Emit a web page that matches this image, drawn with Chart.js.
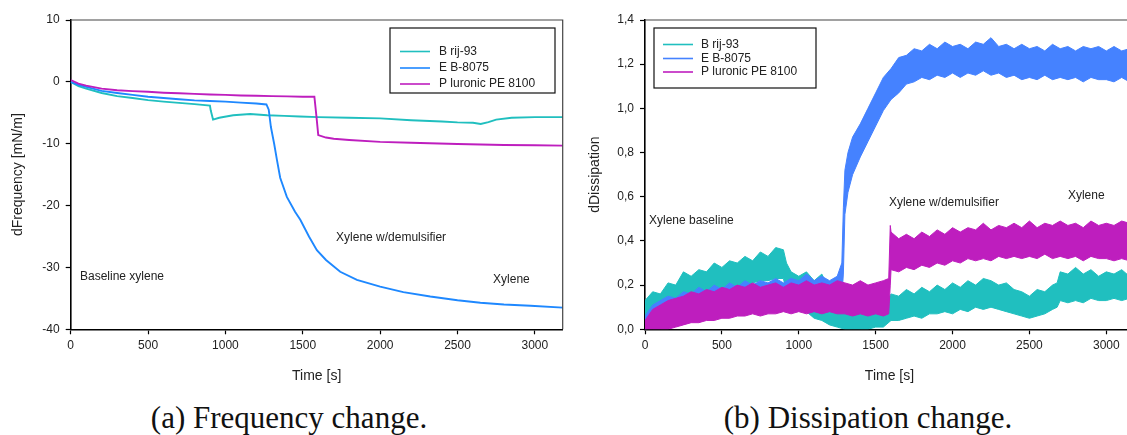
<!DOCTYPE html>
<html><head><meta charset="utf-8">
<script src="https://cdn.jsdelivr.net/npm/chart.js@4.4.1/dist/chart.umd.min.js"></script>
<style>
html,body{margin:0;padding:0;background:#fff;overflow:hidden;width:1127px;height:435px;position:relative}
#wa{position:absolute;left:0;top:0;width:575px;height:390px}
#wb{position:absolute;left:580px;top:0;width:565px;height:390px}
.cap{position:absolute;top:398px;font-family:"Liberation Serif","Times New Roman",serif;font-size:31px;line-height:40px;white-space:nowrap;color:#111;transform:translateX(-50%)}
</style></head><body>
<div id="wa"><canvas id="ca" width="575" height="390"></canvas></div>
<div id="wb"><canvas id="cb" width="565" height="390"></canvas></div>
<div class="cap" style="left:289px">(a) Frequency change.</div>
<div class="cap" style="left:868px">(b) Dissipation change.</div>
<script>
// ---------- Data ----------
const seriesNames = ["B rij-93", "E B-8075", "P luronic PE 8100"];
const timeTicks = [0, 500, 1000, 1500, 2000, 2500, 3000];
const timeMax = 3180;
const freqTicks = [-40, -30, -20, -10, 0, 10];
const dissTicks = [0, 0.2, 0.4, 0.6, 0.8, 1.0, 1.2, 1.4];

// (a) frequency change
const freqBrijT = [0,50,100,200,300,400,500,600,700,800,900,905,920,960,1050,1160,1270,1380,1480,1600,1800,2000,2200,2400,2500,2600,2650,2700,2750,2850,3000,3180];
const freqBrijV = [0,-0.7,-1.1,-1.8,-2.3,-2.6,-2.95,-3.2,-3.4,-3.6,-3.85,-4.6,-6.1,-5.8,-5.4,-5.2,-5.4,-5.5,-5.6,-5.7,-5.8,-5.9,-6.2,-6.4,-6.55,-6.6,-6.8,-6.5,-6.1,-5.8,-5.7,-5.7];

const freqEbT = [0,50,100,200,300,400,500,600,700,800,900,1000,1100,1200,1265,1280,1294,1315,1333,1354,1397,1450,1484,1540,1591,1650,1742,1850,2000,2150,2324,2500,2648,2800,2972,3180];
const freqEbV = [0,-0.5,-0.8,-1.45,-1.8,-2.1,-2.4,-2.6,-2.8,-3.0,-3.1,-3.2,-3.35,-3.5,-3.65,-4.5,-7.3,-10.0,-12.6,-15.5,-18.6,-21.0,-22.3,-25.0,-27.2,-28.8,-30.7,-32.0,-33.1,-34.0,-34.7,-35.3,-35.7,-36.0,-36.2,-36.5];

const freqPlurT = [0,50,100,200,300,400,500,600,700,800,900,1000,1100,1200,1300,1400,1500,1575,1588,1600,1650,1700,1800,2000,2200,2500,2800,3000,3180];
const freqPlurV = [0.3,-0.3,-0.6,-1.1,-1.35,-1.5,-1.6,-1.75,-1.85,-1.95,-2.05,-2.1,-2.2,-2.25,-2.3,-2.35,-2.4,-2.4,-5.5,-8.6,-9.0,-9.2,-9.4,-9.7,-9.85,-10.05,-10.2,-10.25,-10.3];

// (b) dissipation change: noisy signals read as upper / lower envelopes
const dissBrijT = [0,50,100,150,200,250,300,350,400,450,
 500,550,600,650,700,750,800,850,900,920,
 950,1000,1050,1100,1150,1200,1250,1300,1350,1400,
 1450,1500,1550,1600,1650,1700,1750,1800,1850,1900,
 1950,2000,2050,2100,2150,2200,2250,2300,2350,2400,
 2450,2500,2550,2600,2650,2680,2700,2750,2800,2850,
 2900,2950,3000,3050,3100,3150,3180];
const dissBrijHi = [0.13,0.17,0.16,0.21,0.20,0.26,0.24,0.27,0.26,0.30,
 0.28,0.31,0.30,0.33,0.31,0.35,0.33,0.37,0.36,0.30,
 0.26,0.24,0.26,0.22,0.25,0.18,0.20,0.12,0.10,0.12,
 0.09,0.11,0.10,0.16,0.15,0.18,0.16,0.19,0.17,0.20,
 0.18,0.21,0.19,0.22,0.20,0.23,0.22,0.20,0.21,0.18,
 0.17,0.15,0.18,0.17,0.20,0.21,0.26,0.25,0.28,0.25,
 0.27,0.24,0.26,0.25,0.27,0.24,0.26];
const dissBrijLo = [0.03,0.06,0.08,0.10,0.11,0.13,0.14,0.15,0.16,0.17,
 0.18,0.19,0.19,0.20,0.21,0.22,0.22,0.23,0.23,0.17,
 0.13,0.10,0.08,0.05,0.04,0.02,0.01,0.0,0.0,0.0,
 0.0,0.01,0.01,0.04,0.04,0.05,0.06,0.05,0.07,0.07,
 0.08,0.07,0.09,0.08,0.10,0.09,0.10,0.09,0.08,0.07,
 0.06,0.05,0.06,0.07,0.09,0.10,0.13,0.12,0.13,0.12,
 0.14,0.13,0.13,0.14,0.13,0.14,0.14];

const dissEbT = [0,50,100,150,200,250,300,350,400,450,
 500,550,600,650,700,750,800,850,900,950,
 1000,1050,1100,1150,1200,1250,1280,1290,1300,1320,
 1350,1400,1450,1500,1550,1600,1650,1700,1750,1800,
 1850,1900,1950,2000,2050,2100,2150,2200,2250,2300,
 2350,2400,2450,2500,2550,2600,2650,2700,2750,2800,
 2850,2900,2950,3000,3050,3100,3150,3180];
const dissEbHi = [0.06,0.11,0.13,0.15,0.14,0.17,0.16,0.19,0.17,0.20,
 0.18,0.21,0.19,0.22,0.20,0.22,0.21,0.23,0.21,0.23,
 0.22,0.25,0.22,0.24,0.22,0.24,0.30,0.55,0.72,0.80,
 0.87,0.93,1.00,1.07,1.14,1.18,1.23,1.24,1.27,1.26,
 1.29,1.27,1.30,1.28,1.29,1.27,1.30,1.29,1.32,1.28,
 1.29,1.27,1.29,1.27,1.28,1.26,1.29,1.27,1.28,1.26,
 1.28,1.27,1.28,1.26,1.28,1.26,1.27,1.26];
const dissEbLo = [0.0,0.01,0.03,0.04,0.05,0.06,0.07,0.07,0.08,0.09,
 0.09,0.10,0.10,0.10,0.11,0.11,0.11,0.12,0.11,0.12,
 0.12,0.12,0.13,0.12,0.13,0.13,0.15,0.25,0.52,0.62,
 0.70,0.78,0.85,0.92,0.99,1.04,1.07,1.11,1.12,1.14,
 1.13,1.15,1.14,1.16,1.14,1.16,1.15,1.17,1.15,1.16,
 1.14,1.15,1.13,1.14,1.13,1.15,1.13,1.14,1.13,1.14,
 1.12,1.14,1.13,1.13,1.12,1.14,1.12,1.13];

const dissPlurT = [0,50,100,150,200,250,300,350,400,450,
 500,550,600,650,700,750,800,850,900,950,
 1000,1050,1100,1150,1200,1250,1300,1350,1400,1450,
 1500,1550,1585,1595,1600,1650,1700,1750,1800,1850,
 1900,1950,2000,2050,2100,2150,2200,2250,2300,2350,
 2400,2450,2500,2550,2600,2650,2700,2750,2800,2850,
 2900,2950,3000,3050,3100,3150,3180];
const dissPlurHi = [0.04,0.09,0.11,0.13,0.14,0.15,0.17,0.16,0.18,0.17,
 0.19,0.18,0.20,0.19,0.21,0.19,0.20,0.21,0.19,0.21,
 0.20,0.22,0.20,0.21,0.20,0.22,0.21,0.20,0.22,0.20,
 0.21,0.22,0.23,0.47,0.44,0.41,0.43,0.41,0.44,0.42,
 0.45,0.43,0.46,0.44,0.46,0.45,0.48,0.45,0.47,0.46,
 0.48,0.46,0.49,0.46,0.48,0.47,0.49,0.47,0.48,0.46,
 0.49,0.47,0.48,0.47,0.49,0.48,0.50];
const dissPlurLo = [0.0,0.0,0.0,0.0,0.01,0.02,0.03,0.03,0.04,0.04,
 0.05,0.05,0.06,0.06,0.07,0.06,0.07,0.07,0.08,0.07,
 0.08,0.07,0.08,0.07,0.08,0.07,0.07,0.06,0.07,0.06,
 0.07,0.06,0.07,0.20,0.27,0.26,0.28,0.27,0.29,0.28,
 0.30,0.29,0.31,0.30,0.32,0.31,0.32,0.31,0.33,0.32,
 0.33,0.32,0.33,0.32,0.34,0.32,0.33,0.32,0.33,0.31,
 0.33,0.32,0.32,0.31,0.32,0.31,0.31];

// ---------- Styling ----------
const TEAL = '#20BFBF', BLUE_A = '#1E88FF', BLUE_B = '#4582FF', MAG = '#BE1EBE';
const SANS = '"Liberation Sans", Arial, sans-serif';
const TXT = '#222';

function pts(t, v){ return t.map((x,i)=>({x:x, y:v[i]})); }

function framePlugin(opts){
  return {
    id:'frame'+opts.id,
    afterDraw(chart){
      const ctx = chart.ctx, a = chart.chartArea;
      ctx.save();
      ctx.strokeStyle = '#444'; ctx.lineWidth = 1.2;
      ctx.beginPath();
      ctx.moveTo(a.left, a.top); ctx.lineTo(a.right, a.top); ctx.lineTo(a.right, a.bottom);
      ctx.stroke();
      const L = opts.legend;
      const bx = L.fromRight ? a.right - L.dx : a.left + L.dx;
      const by = a.top + L.dy;
      ctx.fillStyle = '#fff';
      ctx.fillRect(bx, by, L.w, L.h);
      ctx.strokeStyle = '#111'; ctx.lineWidth = 1.2;
      ctx.strokeRect(bx, by, L.w, L.h);
      ctx.font = '12px ' + SANS;
      ctx.textBaseline = 'middle'; ctx.textAlign = 'left';
      L.colors.forEach((c,i)=>{
        const yy = by + L.rows[i];
        ctx.strokeStyle = c; ctx.lineWidth = 1.6;
        ctx.beginPath(); ctx.moveTo(bx + L.lx0, yy); ctx.lineTo(bx + L.lx1, yy); ctx.stroke();
        ctx.fillStyle = TXT;
        ctx.fillText(seriesNames[i], bx + L.tx, yy);
      });
      const xs = chart.scales.x, ys = chart.scales.y;
      ctx.font = '12px ' + SANS; ctx.fillStyle = TXT;
      opts.notes.forEach(n=>{
        ctx.fillText(n.text, xs.getPixelForValue(n.x), ys.getPixelForValue(n.y));
      });
      ctx.restore();
    }
  };
}

function baseScales(yTickVals, yw, yTitle, yTitlePad, fmt){
  const gridCfg = {display:true, drawOnChartArea:false, drawTicks:true, tickLength:5, tickColor:'#000', tickWidth:1.2};
  return {
    x:{type:'linear', min:0, max:timeMax,
       afterBuildTicks(s){ s.ticks = timeTicks.map(v=>({value:v})); },
       ticks:{color:TXT, font:{family:SANS, size:12}, padding:4, maxRotation:0, autoSkip:false, callback:v=>String(v)},
       grid:gridCfg, border:{display:true, color:'#000', width:1.6},
       title:{display:true, text:'Time [s]', color:TXT, font:{family:SANS, size:14}, padding:{top:0,bottom:5.6}},
       afterFit(s){ s.height = 60.7; }},
    y:{type:'linear', min:yTickVals[0], max:yTickVals[yTickVals.length-1],
       afterBuildTicks(s){ s.ticks = yTickVals.map(v=>({value:v})); },
       ticks:{color:TXT, font:{family:SANS, size:12}, padding:6, autoSkip:false, callback:fmt},
       grid:gridCfg, border:{display:true, color:'#000', width:1.6},
       title:{display:true, text:yTitle, color:TXT, font:{family:SANS, size:14}, padding:{top:yTitlePad,bottom:0}},
       afterFit(s){ s.width = yw; }}
  };
}

const common = {
  responsive:false, animation:false, devicePixelRatio:1,
  elements:{point:{radius:0}, line:{tension:0}},
  plugins:{legend:{display:false}, tooltip:{enabled:false}}
};

// ---------- Chart (a) ----------
new Chart(document.getElementById('ca'), {
  type:'line',
  data:{datasets:[
    {data:pts(freqPlurT, freqPlurV), borderColor:MAG, borderWidth:1.9, fill:false, order:1},
    {data:pts(freqEbT, freqEbV), borderColor:BLUE_A, borderWidth:1.9, fill:false, order:2},
    {data:pts(freqBrijT, freqBrijV), borderColor:TEAL, borderWidth:1.9, fill:false, order:3}
  ]},
  options:Object.assign({}, common, {
    parsing:false,
    layout:{padding:{top:20, right:12.3, left:0, bottom:0}},
    scales: baseScales(freqTicks, 70.7, 'dFrequency [mN/m]', 9.6, v=>String(v))
  }),
  plugins:[framePlugin({id:'a',
    legend:{fromRight:true, dx:172.7, dy:8, w:165, h:65, rows:[23.5,40,56], lx0:10, lx1:40, tx:49, colors:[TEAL,BLUE_A,MAG]},
    notes:[{text:'Baseline xylene', x:60, y:-31.55},{text:'Xylene w/demulsifier', x:1715, y:-25.25},{text:'Xylene', x:2730, y:-32.0}]
  })]
});

// ---------- Chart (b) ----------
function band(t, hi, lo, color, order){
  return [
    {data:pts(t, hi), borderColor:color, backgroundColor:color, borderWidth:1, fill:'+1', order:order},
    {data:pts(t, lo), borderColor:color, backgroundColor:color, borderWidth:1, fill:false, order:order}
  ];
}
new Chart(document.getElementById('cb'), {
  type:'line',
  data:{datasets:[].concat(
    band(dissBrijT, dissBrijHi, dissBrijLo, TEAL, 3),
    band(dissEbT, dissEbHi, dissEbLo, BLUE_B, 2),
    band(dissPlurT, dissPlurHi, dissPlurLo, MAG, 1)
  )},
  options:Object.assign({}, common, {
    parsing:false,
    layout:{padding:{top:20, right:11, left:0, bottom:0}},
    scales: baseScales(dissTicks, 65, 'dDissipation', 6.6, v=>Number(v).toFixed(1).replace('.',','))
  }),
  plugins:[framePlugin({id:'b',
    legend:{fromRight:false, dx:9, dy:8, w:162, h:60, rows:[16.5,30.5,44], lx0:9, lx1:39, tx:47, colors:[TEAL,BLUE_B,MAG]},
    notes:[{text:'Xylene baseline', x:26, y:0.49},{text:'Xylene w/demulsifier', x:1586, y:0.571},{text:'Xylene', x:2750, y:0.603}]
  })]
});
</script>
</body></html>
